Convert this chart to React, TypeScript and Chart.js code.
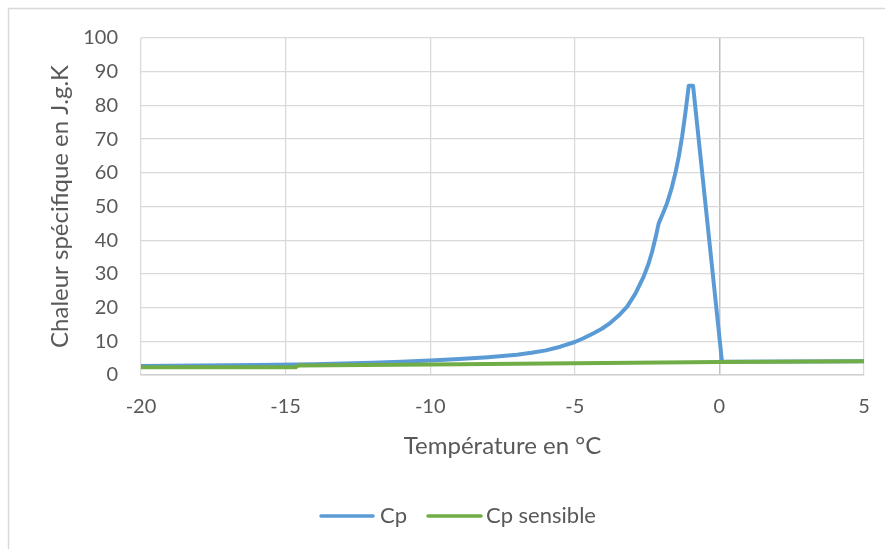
import React, { useEffect, useRef } from "react";
import { Chart, registerables } from "chart.js";

Chart.register(...registerables);

// ---- Data ----
const cpTemps = [-20, -18, -16, -14, -12, -11, -10, -9, -8, -7, -6.5, -6, -5.5, -5, -4.7, -4.35, -4.05, -3.77, -3.5, -3.19, -2.9, -2.62, -2.45, -2.33, -2.2, -2.1, -1.95, -1.81, -1.65, -1.52, -1.4, -1.29, -1.18, -1.06, -0.91, 0.09, 5];
const cpValues = [2.7, 2.8, 2.95, 3.2, 3.6, 3.9, 4.3, 4.75, 5.3, 6.0, 6.6, 7.3, 8.4, 9.8, 10.9, 12.4, 13.8, 15.5, 17.5, 20.3, 24.2, 29.2, 33, 36.5, 41, 45, 48, 51, 55.5, 60, 65, 70.7, 77.5, 85.8, 85.8, 3.9, 4.05];

const sensTemps = [-20, -14.65, -14.55, -10, -5, 0, 5];
const sensValues = [2.3, 2.3, 2.85, 3.15, 3.5, 3.85, 4.05];

const seriesLabels = ["Cp", "Cp sensible"];
const seriesColors = ["#5b9bd5", "#70ad47"];

const xTitle = "Température en °C";
const yTitle = "Chaleur spécifique en J.g.K";

const FONT = "Lato, 'Open Sans', sans-serif";
const TEXT = "#595959";

const toPoints = (xs: number[], ys: number[]) => xs.map((x, i) => ({ x, y: ys[i] }));

const decorPlugin = {
  id: "decor",
  afterDraw(chart: any) {
    const ctx = chart.ctx as CanvasRenderingContext2D;
    const area = chart.chartArea;
    ctx.save();
    // chart area border (top & left)
    ctx.strokeStyle = "#d9d9d9";
    ctx.lineWidth = 1.5;
    ctx.beginPath();
    ctx.moveTo(8, 8.5);
    ctx.lineTo(885, 8.5);
    ctx.moveTo(8.5, 8);
    ctx.lineTo(8.5, 549);
    ctx.stroke();

    ctx.fillStyle = TEXT;
    ctx.font = `24px ${FONT}`;
    ctx.textAlign = "center";
    ctx.textBaseline = "middle";
    // x title
    ctx.fillText(xTitle, (area.left + area.right) / 2, 446);
    // y title
    ctx.save();
    ctx.translate(60, (area.top + area.bottom) / 2);
    ctx.rotate(-Math.PI / 2);
    ctx.fillText(yTitle, 0, 0);
    ctx.restore();

    // legend
    const items = [
      { x1: 321, x2: 373, tx: 380 },
      { x1: 428, x2: 481, tx: 486 },
    ];
    const ly = 516;
    ctx.font = `22px ${FONT}`;
    chart.data.datasets.forEach((ds: any, i: number) => {
      const it = items[i];
      ctx.strokeStyle = ds.borderColor;
      ctx.lineWidth = 3.5;
      ctx.lineCap = "round";
      ctx.beginPath();
      ctx.moveTo(it.x1, ly);
      ctx.lineTo(it.x2, ly);
      ctx.stroke();
      ctx.fillStyle = TEXT;
      ctx.textAlign = "left";
      ctx.fillText(ds.label, it.tx, ly);
    });
    ctx.restore();
  },
};

export default function App() {
  const ref = useRef<HTMLCanvasElement>(null);

  useEffect(() => {
    if (!ref.current) return;
    const chart = new Chart(ref.current, {
      type: "line",
      data: {
        datasets: [
          {
            label: seriesLabels[0],
            data: toPoints(cpTemps, cpValues),
            borderColor: seriesColors[0],
            backgroundColor: seriesColors[0],
            borderWidth: 4,
            pointRadius: 0,
            tension: 0,
            borderCapStyle: "round",
            borderJoinStyle: "round",
            order: 1,
          },
          {
            label: seriesLabels[1],
            data: toPoints(sensTemps, sensValues),
            borderColor: seriesColors[1],
            backgroundColor: seriesColors[1],
            borderWidth: 4,
            pointRadius: 0,
            tension: 0,
            borderCapStyle: "butt",
            order: 0,
          },
        ],
      },
      plugins: [decorPlugin],
      options: {
        animation: false,
        responsive: false,
        maintainAspectRatio: false,
        layout: { padding: { top: 38, right: 21, left: 0, bottom: 0 } },
        plugins: {
          legend: { display: false },
          tooltip: { enabled: false },
        },
        scales: {
          x: {
            type: "linear",
            min: -20,
            max: 5,
            ticks: {
              stepSize: 5,
              padding: 20,
              color: TEXT,
              font: { family: FONT, size: 20 },
            },
            grid: {
              drawTicks: false,
              color: (c: any) => (c.tick && c.tick.value === 0 ? "#bfbfbf" : "#d9d9d9"),
              lineWidth: (c: any) => (c.tick && c.tick.value === 0 ? 1.5 : 1.25),
            },
            border: { display: true, color: "#d0d0d0", width: 1.5 },
            afterFit: (s: any) => {
              s.height = 549 - 375;
              s.paddingLeft = 0;
              s.paddingRight = 0;
            },
          },
          y: {
            min: 0,
            max: 100,
            ticks: {
              stepSize: 10,
              padding: 23,
              color: TEXT,
              font: { family: FONT, size: 20 },
            },
            grid: { drawTicks: false, color: "#d9d9d9", lineWidth: 1.25 },
            border: { display: false },
            afterFit: (s: any) => {
              s.width = 141;
            },
          },
        },
      },
    } as any);
    return () => chart.destroy();
  }, []);

  return (
    <div style={{ position: "fixed", left: 0, top: 0, width: 885, height: 549, background: "#fff" }}>
      <canvas ref={ref} width={885} height={549} style={{ width: 885, height: 549 }} />
    </div>
  );
}
